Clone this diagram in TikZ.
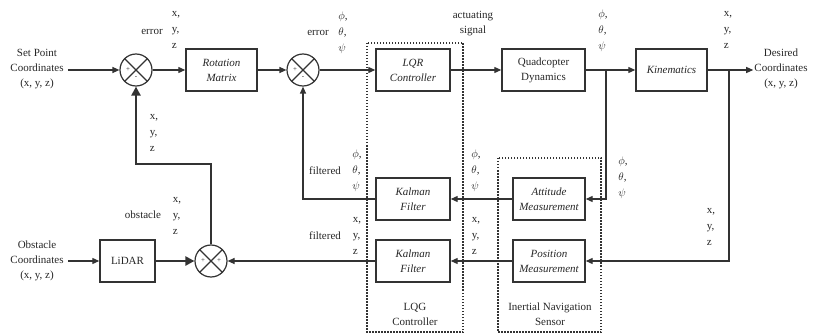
\documentclass[tikz,border=0pt]{standalone}
\usepackage{fontspec}
\setmainfont{Liberation Serif}
\usetikzlibrary{arrows.meta,calc}
\begin{document}
\begin{tikzpicture}[x=1pt,y=-1pt,
  every node/.style={font=\fontsize{11}{15}\selectfont, text=black!85},
  blk/.style={draw=black!80, line width=1.4pt, minimum height=42pt, inner sep=1pt, align=center},
  sumc/.style={draw=black!80, line width=1.2pt, circle, minimum size=32pt, inner sep=0pt},
  lbl/.style={align=center, inner sep=1pt},
  stack/.style={align=left, inner sep=1pt, font=\fontsize{11}{16}\selectfont},
  conn/.style={draw=black!80, line width=1.2pt, -{Triangle[length=7pt,width=6pt]}},
  line/.style={draw=black!80, line width=1.2pt},
  thk/.style={draw=black!80, line width=2.6pt, -{Triangle[length=9pt,width=9pt]}},
  dotbox/.style={draw=black!80, line width=1.1pt, dash pattern=on 1.5pt off 1.5pt}
]
\useasboundingbox (0,0) rectangle (814,334);

% dotted groups
\draw[dotbox] (367,43) rectangle (463,332);
\draw[dotbox] (498,158) rectangle (601,332);
\node[lbl] (lqg) at (415,314) {LQG\\Controller};
\node[lbl] (ins) at (550,314) {Inertial Navigation\\Sensor};

% blocks
\node[blk, minimum width=71pt] (rot) at (221.5,70) {\itshape Rotation\\\itshape Matrix};
\node[blk, minimum width=74pt] (lqr) at (413,70) {\itshape LQR\\\itshape Controller};
\node[blk, minimum width=83pt] (quad) at (543.5,70) {Quadcopter\\Dynamics};
\node[blk, minimum width=71pt] (kin) at (671.5,70) {\itshape Kinematics};
\node[blk, minimum width=74pt] (kal1) at (413,199) {\itshape Kalman\\\itshape Filter};
\node[blk, minimum width=74pt] (kal2) at (413,261) {\itshape Kalman\\\itshape Filter};
\node[blk, minimum width=72pt] (att) at (549,199) {\itshape Attitude\\\itshape Measurement};
\node[blk, minimum width=72pt] (pos) at (549,261) {\itshape Position\\\itshape Measurement};
\node[blk, minimum width=55pt] (lidar) at (127.5,261) {LiDAR};

% summing junctions
\foreach \n/\x/\y in {s1/136/70, s2/303/70, s3/211/261}{
  \node[sumc] (\n) at (\x,\y) {};
  \draw[line] (\n.north west) -- (\n.south east);
  \draw[line] (\n.north east) -- (\n.south west);
}
\node[inner sep=0pt, font=\fontsize{7}{7}\selectfont] at ($(s1.center)+(-8,0)$) {+};
\node[inner sep=0pt, font=\fontsize{7}{7}\selectfont] at ($(s1.center)+(0,8)$) {-};
\node[inner sep=0pt, font=\fontsize{7}{7}\selectfont] at ($(s2.center)+(-8,0)$) {+};
\node[inner sep=0pt, font=\fontsize{7}{7}\selectfont] at ($(s2.center)+(0,8)$) {-};
\node[inner sep=0pt, font=\fontsize{7}{7}\selectfont] at ($(s3.center)+(-8,0)$) {+};
\node[inner sep=0pt, font=\fontsize{7}{7}\selectfont] at ($(s3.center)+(8,0)$) {+};

% terminal texts
\node[lbl, inner xsep=4pt] (setp) at (37,69) {Set Point\\Coordinates\\(x, y, z)};
\node[lbl, inner xsep=4pt] (obst) at (37,261) {Obstacle\\Coordinates\\(x, y, z)};
\node[lbl, inner xsep=1pt] (des) at (781,69) {Desired\\Coordinates\\(x, y, z)};

% coordinates for branches
\coordinate (b1) at (606,70);
\coordinate (b2) at (729,70);
\coordinate (c1) at (303,199);
\coordinate (c2) at (211,164);

% connectors
\draw[conn] (setp.east |- s1) -- (s1.west);
\draw[conn] (s1.east) -- (rot.west);
\draw[conn] (rot.east) -- (s2.west);
\draw[conn] (s2.east) -- (lqr.west);
\draw[conn] (lqr.east) -- (quad.west);
\draw[conn] (quad.east) -- (kin.west);
\draw[conn] (kin.east) -- (des.west |- kin);
\draw[conn] (b1) |- (att.east);
\draw[conn] (b2) |- (pos.east);
\draw[conn] (att.west) -- (kal1.east);
\draw[conn] (pos.west) -- (kal2.east);
\draw[conn] (kal1.west) -- (c1) -- (s2.south);
\draw[conn] (kal2.west) -- (s3.east);
\draw[conn] (obst.east |- lidar) -- (lidar.west);
\draw[thk] (lidar.east) -- (s3.west);
\draw[thk] (s3.north) -- (c2) -| (s1.south);

% signal labels
\node[lbl] at (152,32) {error};
\node[stack] at (176,30) {x,\\y,\\z};
\node[stack] at (154,133) {x,\\y,\\z};
\node[lbl] at (318,33) {error};
\node[stack] at (343,33) {$\phi$,\\$\theta$,\\$\psi$};
\node[lbl] at (473,24) {actuating\\signal};
\node[stack] at (603,31) {$\phi$,\\$\theta$,\\$\psi$};
\node[stack] at (728,30) {x,\\y,\\z};
\node[lbl] at (325,171) {filtered};
\node[stack] at (357,171) {$\phi$,\\$\theta$,\\$\psi$};
\node[lbl] at (325,236) {filtered};
\node[stack] at (357,236) {x,\\y,\\z};
\node[stack] at (476,171) {$\phi$,\\$\theta$,\\$\psi$};
\node[stack] at (476,236) {x,\\y,\\z};
\node[stack] at (623,178) {$\phi$,\\$\theta$,\\$\psi$};
\node[stack] at (711,227) {x,\\y,\\z};
\node[lbl] at (143,215) {obstacle};
\node[stack] at (177,216) {x,\\y,\\z};
\end{tikzpicture}
\end{document}
